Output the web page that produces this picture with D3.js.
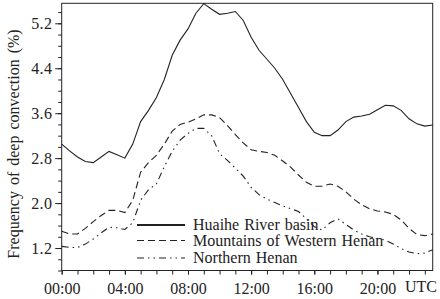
<!DOCTYPE html>
<html><head><meta charset="utf-8">
<script src="https://cdn.jsdelivr.net/npm/d3@7"></script>
</head><body style="margin:0">
<svg id="c" width="440" height="299" font-family="Liberation Serif" style="font-family:'Liberation Serif'"></svg>
<script>
const hours = d3.range(0, 24, 0.5);
const huaihe = [3.05,2.93,2.82,2.74,2.72,2.82,2.92,2.86,2.80,3.05,3.45,3.65,3.88,4.20,4.63,4.90,5.10,5.38,5.55,5.45,5.36,5.38,5.41,5.25,4.95,4.72,4.56,4.40,4.20,3.95,3.70,3.45,3.26,3.20,3.20,3.30,3.45,3.53,3.55,3.58,3.66,3.74,3.73,3.65,3.50,3.41,3.37,3.39];
const westernHenan = [1.50,1.45,1.45,1.55,1.67,1.78,1.87,1.87,1.83,2.05,2.55,2.72,2.85,3.05,3.28,3.40,3.44,3.50,3.57,3.57,3.52,3.38,3.22,3.07,2.95,2.92,2.90,2.85,2.75,2.64,2.50,2.37,2.30,2.30,2.34,2.30,2.20,2.07,1.97,1.90,1.86,1.84,1.80,1.70,1.55,1.44,1.42,1.45];
const northernHenan = [1.23,1.21,1.21,1.27,1.36,1.47,1.57,1.56,1.53,1.65,2.05,2.24,2.34,2.65,2.92,3.12,3.24,3.33,3.33,3.20,2.88,2.76,2.62,2.48,2.28,2.15,2.07,2.01,1.95,1.90,1.85,1.72,1.58,1.52,1.65,1.72,1.62,1.52,1.45,1.40,1.37,1.34,1.27,1.19,1.13,1.10,1.11,1.17];
const seriesNames = ["Huaihe River basin","Mountains of Western Henan","Northern Henan"];
const yTickValues = [1.2,2.0,2.8,3.6,4.4,5.2];
const xTickValues = [0,4,8,12,16,20];
const xTickLabels = ["00:00","04:00","08:00","12:00","16:00","20:00"];
const yLabel = "Frequency of deep convection (%)";
const unitLabel = "UTC";

const L=61.7,R=432.7,T=3.3,B=270.5;
const x=d3.scaleLinear().domain([0,23.5]).range([L,R]);
const y=d3.scaleLinear().domain([0.8,5.556]).range([B,T]);
const svg=d3.select("#c");
const ink="#222";
const FS=16;
function font(sel){return sel.attr("font-family","Liberation Serif").style("font-family","'Liberation Serif'").attr("font-size",FS).attr("fill",ink);}

svg.append("rect").attr("x",L).attr("y",T).attr("width",R-L).attr("height",B-T)
  .attr("fill","none").attr("stroke",ink).attr("stroke-width",1);

const yMinor=d3.range(0.8,5.56,0.2).map(v=>+v.toFixed(1));
const ya=svg.append("g").attr("transform",`translate(${L},0)`)
  .call(d3.axisLeft(y).tickValues(yMinor).tickSize(3.5).tickFormat(""));
ya.select(".domain").remove();
ya.selectAll("line").attr("stroke",ink);
const yb=svg.append("g").attr("transform",`translate(${L},0)`)
  .call(d3.axisLeft(y).tickValues(yTickValues).tickSize(6.5).tickPadding(3).tickFormat(d3.format(".1f")));
yb.select(".domain").remove();
yb.selectAll("line").attr("stroke",ink);
font(yb).attr("font-size",FS);
font(yb.selectAll("text")).attr("letter-spacing","0.3");

const xa=svg.append("g").attr("transform",`translate(0,${B})`)
  .call(d3.axisBottom(x).tickValues(d3.range(0,24,1)).tickSize(4).tickFormat(""));
xa.select(".domain").remove();
xa.selectAll("line").attr("stroke",ink);
const xb=svg.append("g").attr("transform",`translate(0,${B})`)
  .call(d3.axisBottom(x).tickValues(xTickValues).tickSize(4).tickPadding(8).tickFormat((d,i)=>xTickLabels[i]));
xb.select(".domain").remove();
xb.selectAll("line").attr("stroke",ink);
font(xb);
font(xb.selectAll("text"));
font(svg.append("text").attr("x",405).attr("y",292).text(unitLabel));

font(svg.append("text").attr("transform","translate(19,144) rotate(-90)").attr("text-anchor","middle")
  .attr("word-spacing","2").text(yLabel));

const dashes=[null,"7,4","7,4,1.5,4,1.5,4"];
const datas=[huaihe,westernHenan,northernHenan];
const line=d3.line().x((d,i)=>x(hours[i])).y(d=>y(d));
datas.forEach((d,k)=>{
  svg.append("path").datum(d).attr("d",line).attr("fill","none").attr("stroke",ink)
    .attr("stroke-width",1.1).attr("stroke-dasharray",dashes[k]);
});

const ly=[225,240.5,258];
seriesNames.forEach((n,k)=>{
  svg.append("line").attr("x1",137).attr("x2",185).attr("y1",ly[k]).attr("y2",ly[k])
    .attr("stroke",ink).attr("stroke-width",k==0?2:1.1).attr("stroke-dasharray",dashes[k]);
  font(svg.append("text").attr("x",193).attr("y",ly[k]+5).attr("word-spacing","1").text(n));
});
</script>
</body></html>
